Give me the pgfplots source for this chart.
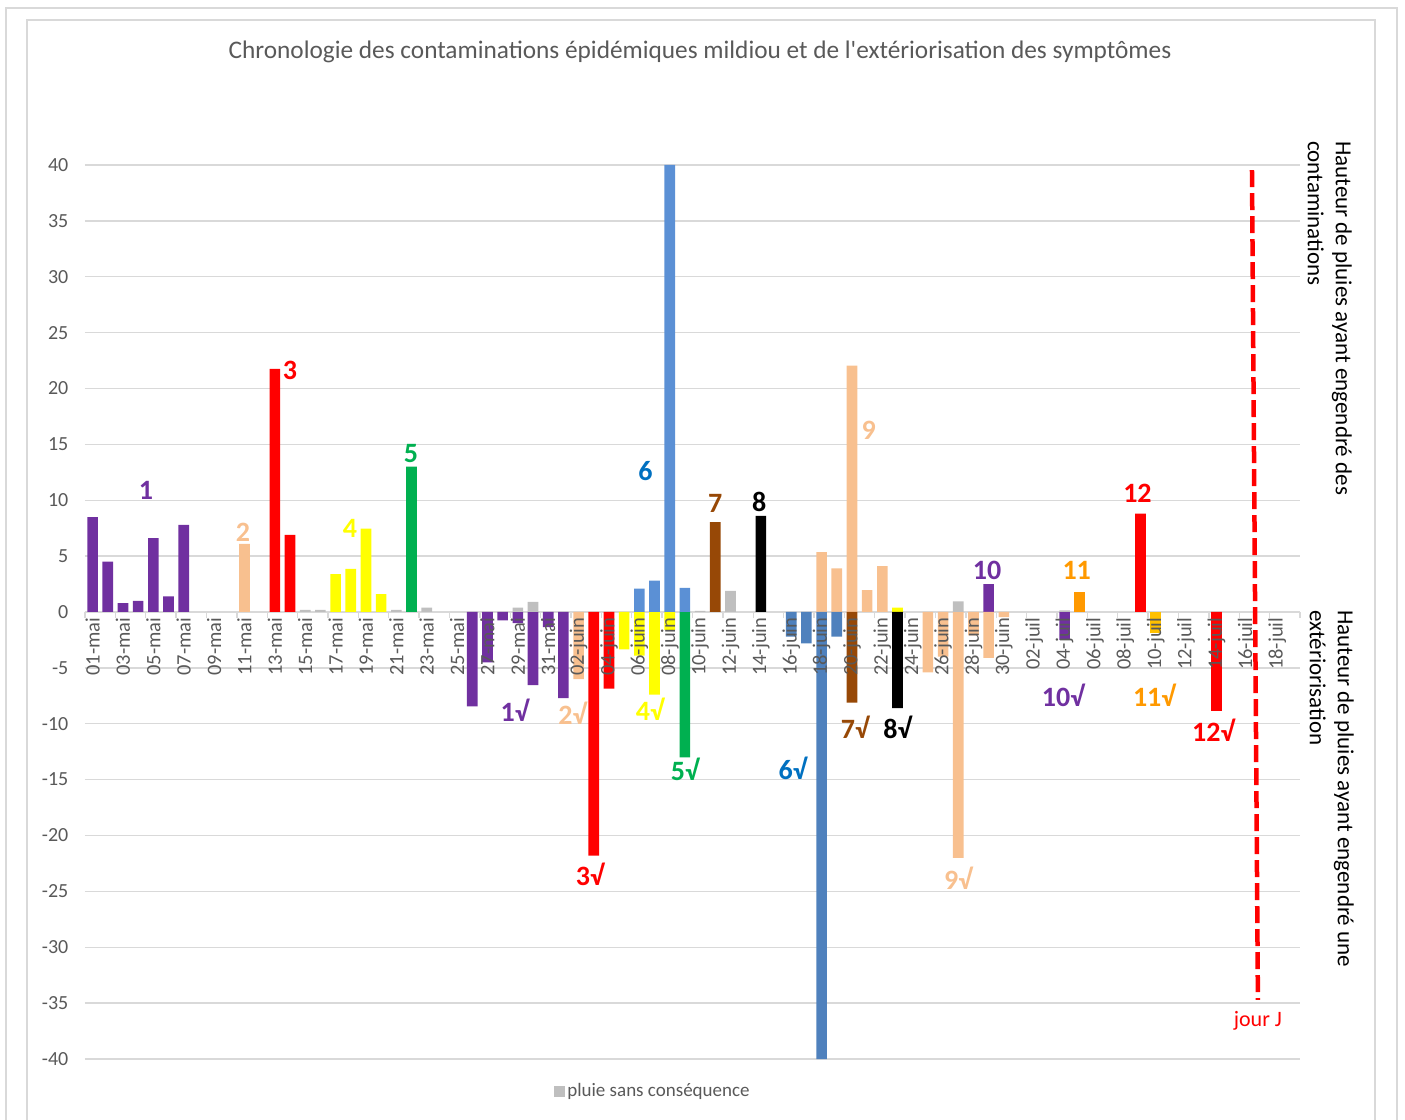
\documentclass[border=0pt]{standalone}
\usepackage{fontspec}
\setmainfont{Carlito}
\usepackage{pgfplots}
\pgfplotsset{compat=1.18}
\definecolor{cpurple}{HTML}{7030A0}
\definecolor{cpeach}{HTML}{F8C08F}
\definecolor{cred}{HTML}{FF0000}
\definecolor{cgrey}{HTML}{BFBFBF}
\definecolor{cyellow}{HTML}{FFFF00}
\definecolor{cgreen}{HTML}{00B050}
\definecolor{cblue}{HTML}{5B90D5}
\definecolor{cbluedark}{HTML}{4F81BD}
\definecolor{cbrown}{HTML}{974806}
\definecolor{corange}{HTML}{FF9900}
\definecolor{cgold}{HTML}{FFC000}
\definecolor{clabblue}{HTML}{0070C0}
\definecolor{ctxt}{HTML}{595959}
\definecolor{cgrid}{HTML}{D9D9D9}
\newcommand{\fs}[1]{\fontsize{#1}{#1}\selectfont}
\pgfplotsset{
  common/.style={
    at={(0pt,0pt)}, anchor=south west, scale only axis,
    width=1215pt, height=894pt,
    xmin=-0.5, xmax=79.5, ymin=-40, ymax=40,
    enlargelimits=false, clip=false,
    axis x line=middle, axis y line=left,
    hide obscured x ticks=false, hide obscured y ticks=false,
    y axis line style={draw=none},
    /pgf/number format/assume math mode=true,
  },
}
\begin{document}
\begin{tikzpicture}
\useasboundingbox (-85pt,-60pt) rectangle (1320pt,1059pt);
\draw[cgrid, line width=2pt] (-79pt,-70pt) -- (-79pt,1051pt) -- (1312pt,1051pt) -- (1312pt,-70pt);
\draw[cgrid, line width=1.5pt] (-58pt,-70pt) -- (-58pt,1039pt) -- (1290pt,1039pt) -- (1290pt,-70pt);
\begin{axis}[
  common,
  x axis line style={draw=cgrid, line width=1.3pt, -},
  ytick={-40,-35,...,40},
  xtick=\empty,
  ytick style={draw=none},
  extra x ticks={-0.5,1.5,...,79.5},
  extra x tick labels={},
  extra x tick style={xtick style={draw=cgrid, line width=1.3pt}, tick align=outside, major tick length=6pt},
  ymajorgrids,
  major grid style={draw=cgrid, line width=1.3pt},
  yticklabel style={font=\fs{20}, text=ctxt, xshift=-11pt},
  legend style={at={(0.4675,-0.0358)}, anchor=center, draw=none, fill=none, font=\fs{19}, text=ctxt},
  mybar/.style={ybar, bar width=0.7, bar shift=0pt, draw=none, fill=#1},
]
% purple
\addplot[mybar=cpurple, forget plot] coordinates {(0,8.5) (1,4.5) (2,0.8) (3,1.0) (4,6.6) (5,1.4) (6,7.8) (25,-8.45) (26,-4.5) (27,-0.75) (28,-1.0) (29,-6.55) (30,-1.35) (31,-7.7) (59,2.5) (64,-2.5)};
% peach
\addplot[mybar=cpeach, forget plot] coordinates {(10,6.1) (32,-6.0) (48,5.35) (49,3.9) (50,22.05) (51,1.95) (52,4.1) (55,-5.4) (56,-4.0) (57,-22.0) (58,-2.1) (59,-4.1) (60,-0.45)};
% red
\addplot[mybar=cred, forget plot] coordinates {(12,21.75) (13,6.9) (33,-21.8) (34,-6.85) (69,8.8) (74,-8.85)};
% yellow
\addplot[mybar=cyellow, forget plot] coordinates {(16,3.4) (17,3.85) (18,7.45) (19,1.6) (35,-3.35) (36,-3.9) (37,-7.4) (38,-1.6) (53,0.4)};
% green
\addplot[mybar=cgreen, forget plot] coordinates {(21,13.0) (39,-13.0)};
% blue
\addplot[mybar=cblue, forget plot] coordinates {(36,2.1) (37,2.8) (38,40) (39,2.15)};
\addplot[mybar=cbluedark, forget plot] coordinates {(46,-2.2) (47,-2.8) (48,-40) (49,-2.2)};
% brown
\addplot[mybar=cbrown, forget plot] coordinates {(41,8.05) (50,-8.1)};
% black
\addplot[mybar=black, forget plot] coordinates {(44,8.6) (53,-8.6)};
% orange / gold
\addplot[mybar=corange, forget plot] coordinates {(65,1.75)};
\addplot[mybar=cgold, forget plot] coordinates {(70,-1.85)};
% grey (legend)
\addplot[mybar=cgrey, legend image code/.code={\fill[cgrey] (-2pt,-5.5pt) rectangle (9pt,5.5pt);}] coordinates {(14,0.2) (15,0.2) (20,0.2) (22,0.4) (28,0.4) (29,0.9) (40,0.1) (42,1.9) (57,0.95) (64,0.15)};
\addlegendentry{pluie sans conséquence}
% labels
\node[text=cpurple, font=\fs{28}\bfseries] at (axis cs:3.52,10.9) {1};
\node[text=cpeach, font=\fs{28}\bfseries] at (axis cs:9.9,7.1) {2};
\node[text=cred, font=\fs{28}\bfseries] at (axis cs:13.0,21.65) {3};
\node[text=cyellow, font=\fs{28}\bfseries] at (axis cs:16.95,7.5) {4};
\node[text=cgreen, font=\fs{28}\bfseries] at (axis cs:20.96,14.2) {5};
\node[text=clabblue, font=\fs{28}\bfseries] at (axis cs:36.4,12.6) {6};
\node[text=cbrown, font=\fs{28}\bfseries] at (axis cs:41.0,9.75) {7};
\node[text=black, font=\fs{28}\bfseries] at (axis cs:43.9,9.85) {8};
\node[text=cpeach, font=\fs{28}\bfseries] at (axis cs:51.1,16.3) {9};
\node[text=cpurple, font=\fs{28}\bfseries] at (axis cs:58.9,3.7) {10};
\node[text=corange, font=\fs{28}\bfseries] at (axis cs:64.8,3.7) {11};
\node[text=cred, font=\fs{28}\bfseries] at (axis cs:68.8,10.65) {12};
\node[text=cpurple, font=\fs{28}\bfseries] at (axis cs:27.8,-8.8) {1√};
\node[text=cpeach, font=\fs{28}\bfseries] at (axis cs:31.6,-9.1) {2√};
\node[text=cred, font=\fs{28}\bfseries] at (axis cs:32.75,-23.45) {3√};
\node[text=cyellow, font=\fs{28}\bfseries] at (axis cs:36.7,-8.7) {4√};
\node[text=cgreen, font=\fs{28}\bfseries] at (axis cs:39.0,-14.1) {5√};
\node[text=clabblue, font=\fs{28}\bfseries] at (axis cs:46.1,-14.0) {6√};
\node[text=cbrown, font=\fs{28}\bfseries] at (axis cs:50.2,-10.3) {7√};
\node[text=black, font=\fs{28}\bfseries] at (axis cs:53.0,-10.3) {8√};
\node[text=cpeach, font=\fs{28}\bfseries] at (axis cs:57.0,-23.8) {9√};
\node[text=cpurple, font=\fs{28}\bfseries] at (axis cs:63.9,-7.45) {10√};
\node[text=corange, font=\fs{28}\bfseries] at (axis cs:69.9,-7.45) {11√};
\node[text=cred, font=\fs{28}\bfseries] at (axis cs:73.8,-10.55) {12√};
\node[text=cred, font=\fs{22}] at (axis cs:76.73,-36.6) {jour J};
\end{axis}
% overlay axis: date labels over the bars, then the "jour J" line on top
\begin{axis}[
  common,
  x axis line style={draw=none},
  ytick=\empty,
  xtick={0,2,...,78},
  xticklabels={01-mai,03-mai,05-mai,07-mai,09-mai,11-mai,13-mai,15-mai,17-mai,19-mai,21-mai,23-mai,25-mai,27-mai,29-mai,31-mai,02-juin,04-juin,06-juin,08-juin,10-juin,12-juin,14-juin,16-juin,18-juin,20-juin,22-juin,24-juin,26-juin,28-juin,30-juin,02-juil,04-juil,06-juil,08-juil,10-juil,12-juil,14-juil,16-juil,18-juil},
  xtick style={draw=none},
  xticklabel style={rotate=90, anchor=east, font=\fs{20.5}, text=ctxt},
]
\addplot[cred, line width=4.5pt, dash pattern=on 17pt off 6pt] coordinates {(76.34,39.55) (76.73,-34.7)};
\end{axis}
\node[text=ctxt, font=\fs{25.3}] at (615pt,1007pt) {Chronologie des contaminations épidémiques mildiou et de l\textquotesingle extériorisation des symptômes};
\node[rotate=-90, anchor=north west, align=left, font=\fontsize{23}{28}\selectfont, inner sep=0pt] at (1267pt,918pt) {Hauteur de pluies ayant engendré des\\contaminations};
\node[rotate=-90, anchor=north west, align=left, font=\fontsize{23}{28}\selectfont, inner sep=0pt] at (1269pt,449pt) {Hauteur de pluies ayant engendré une\\extériorisation};
\end{tikzpicture}
\end{document}
